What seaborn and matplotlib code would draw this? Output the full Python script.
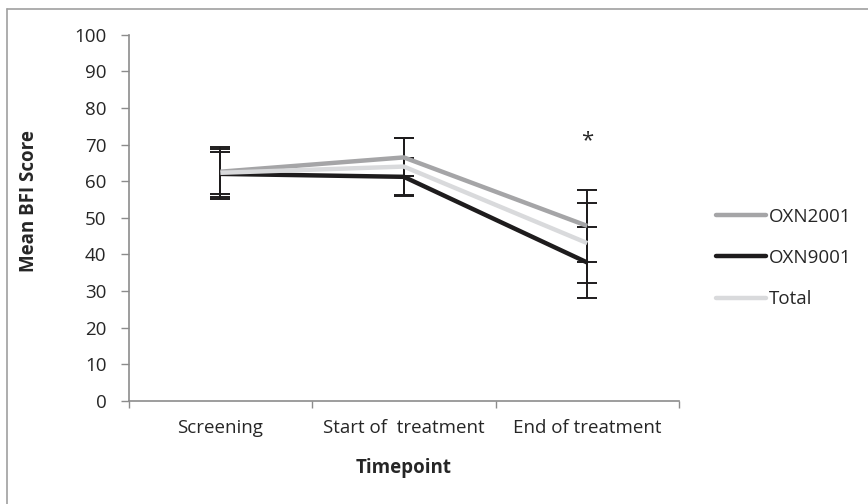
import matplotlib
matplotlib.use("Agg")
import matplotlib.pyplot as plt
import matplotlib.lines as mlines
import seaborn as sns
import pandas as pd

timepoints = ["Screening", "Start of  treatment", "End of treatment"]
series_names = ["OXN2001", "OXN9001", "Total"]
oxn2001 = [62.6, 66.5, 47.8]
oxn9001 = [62.0, 61.2, 37.8]
total = [62.3, 64.0, 43.1]
err2001 = [6.8, 5.2, 9.8]
err9001 = [6.8, 5.2, 9.6]
errtotal = [5.8, 7.7, 11.0]
colors = ["#A5A5A7", "#1E1C1D", "#D9DADC"]
star_value = 71.0

sns.set_style("white")
plt.rcParams['font.family'] = ['Open Sans', 'DejaVu Sans']

values = {"OXN2001": oxn2001, "OXN9001": oxn9001, "Total": total}
errs = {"OXN2001": err2001, "OXN9001": err9001, "Total": errtotal}
rows = []
for s in series_names:
    for i, t in enumerate(timepoints):
        rows.append({"Timepoint": i, "Series": s, "Score": values[s][i], "Err": errs[s][i]})
df = pd.DataFrame(rows)

FS = 13.5
TXT = '#262626'

fig = plt.figure(figsize=(8.68, 5.04), dpi=100)
ax = fig.add_axes([128.7 / 868, 1 - 401 / 504, (679 - 128.7) / 868, (401 - 34.7) / 504])

# error bars (black)
for s in series_names:
    d = df[df.Series == s]
    ax.errorbar(d.Timepoint, d.Score, yerr=d.Err, fmt='none', ecolor='#1E1C1D',
                elinewidth=1.4, capsize=7, capthick=1.4, zorder=2)

sns.lineplot(data=df, x="Timepoint", y="Score", hue="Series", hue_order=series_names,
             palette=colors, linewidth=3.2, sort=False, estimator=None, ax=ax,
             legend=False, zorder=3)
for ln in ax.get_lines():
    ln.set_solid_capstyle('butt')
    ln.set_solid_joinstyle('miter')

ax.text(2, star_value, "*", ha='center', va='center', fontsize=16, color=TXT)

ax.set_xlim(-0.5, 2.5)
ax.set_ylim(0, 100)
ax.set_yticks(range(0, 101, 10))
ax.set_xticks([0, 1, 2])
ax.set_xticklabels(timepoints)
ax.set_xticks([-0.5, 0.5, 1.5, 2.5], minor=True)
ax.tick_params(axis='x', which='major', length=0, pad=13, labelsize=FS, labelcolor=TXT)
ax.tick_params(axis='x', which='minor', length=5, width=1, color='#8C8C8C', direction='out', bottom=True)
ax.tick_params(axis='y', length=6, width=1, color='#8C8C8C', direction='out', left=True,
               labelsize=FS, labelcolor=TXT, pad=10)
for sp in ['top', 'right']:
    ax.spines[sp].set_visible(False)
for sp in ['left', 'bottom']:
    ax.spines[sp].set_color('#8C8C8C')
    ax.spines[sp].set_linewidth(1.2)

ax.set_xlabel("Timepoint", fontsize=FS, fontweight='bold', color=TXT)
ax.set_ylabel("Mean BFI Score", fontsize=FS, fontweight='bold', color=TXT)
ax.xaxis.set_label_coords(0.5, -0.156)
ax.yaxis.set_label_coords(-0.163, 0.546)

handles = [mlines.Line2D([], [], color=c, linewidth=3.2, solid_capstyle='round') for c in colors]
fig.legend(handles, series_names, loc='center left', bbox_to_anchor=(708 / 868, 1 - 258 / 504),
           frameon=False, fontsize=FS, handlelength=2.7, handletextpad=0.15,
           labelspacing=1.25, labelcolor=TXT, borderaxespad=0)

# outer chart border (top and left visible)
fig.add_artist(mlines.Line2D([6.5 / 868, 1.0], [1 - 9 / 504, 1 - 9 / 504], color='#A0A0A0', linewidth=1.2, transform=fig.transFigure))
fig.add_artist(mlines.Line2D([6.5 / 868, 6.5 / 868], [1 - 9 / 504, 0.0], color='#A0A0A0', linewidth=1.2, transform=fig.transFigure))

fig.savefig("out.png", dpi=100)
